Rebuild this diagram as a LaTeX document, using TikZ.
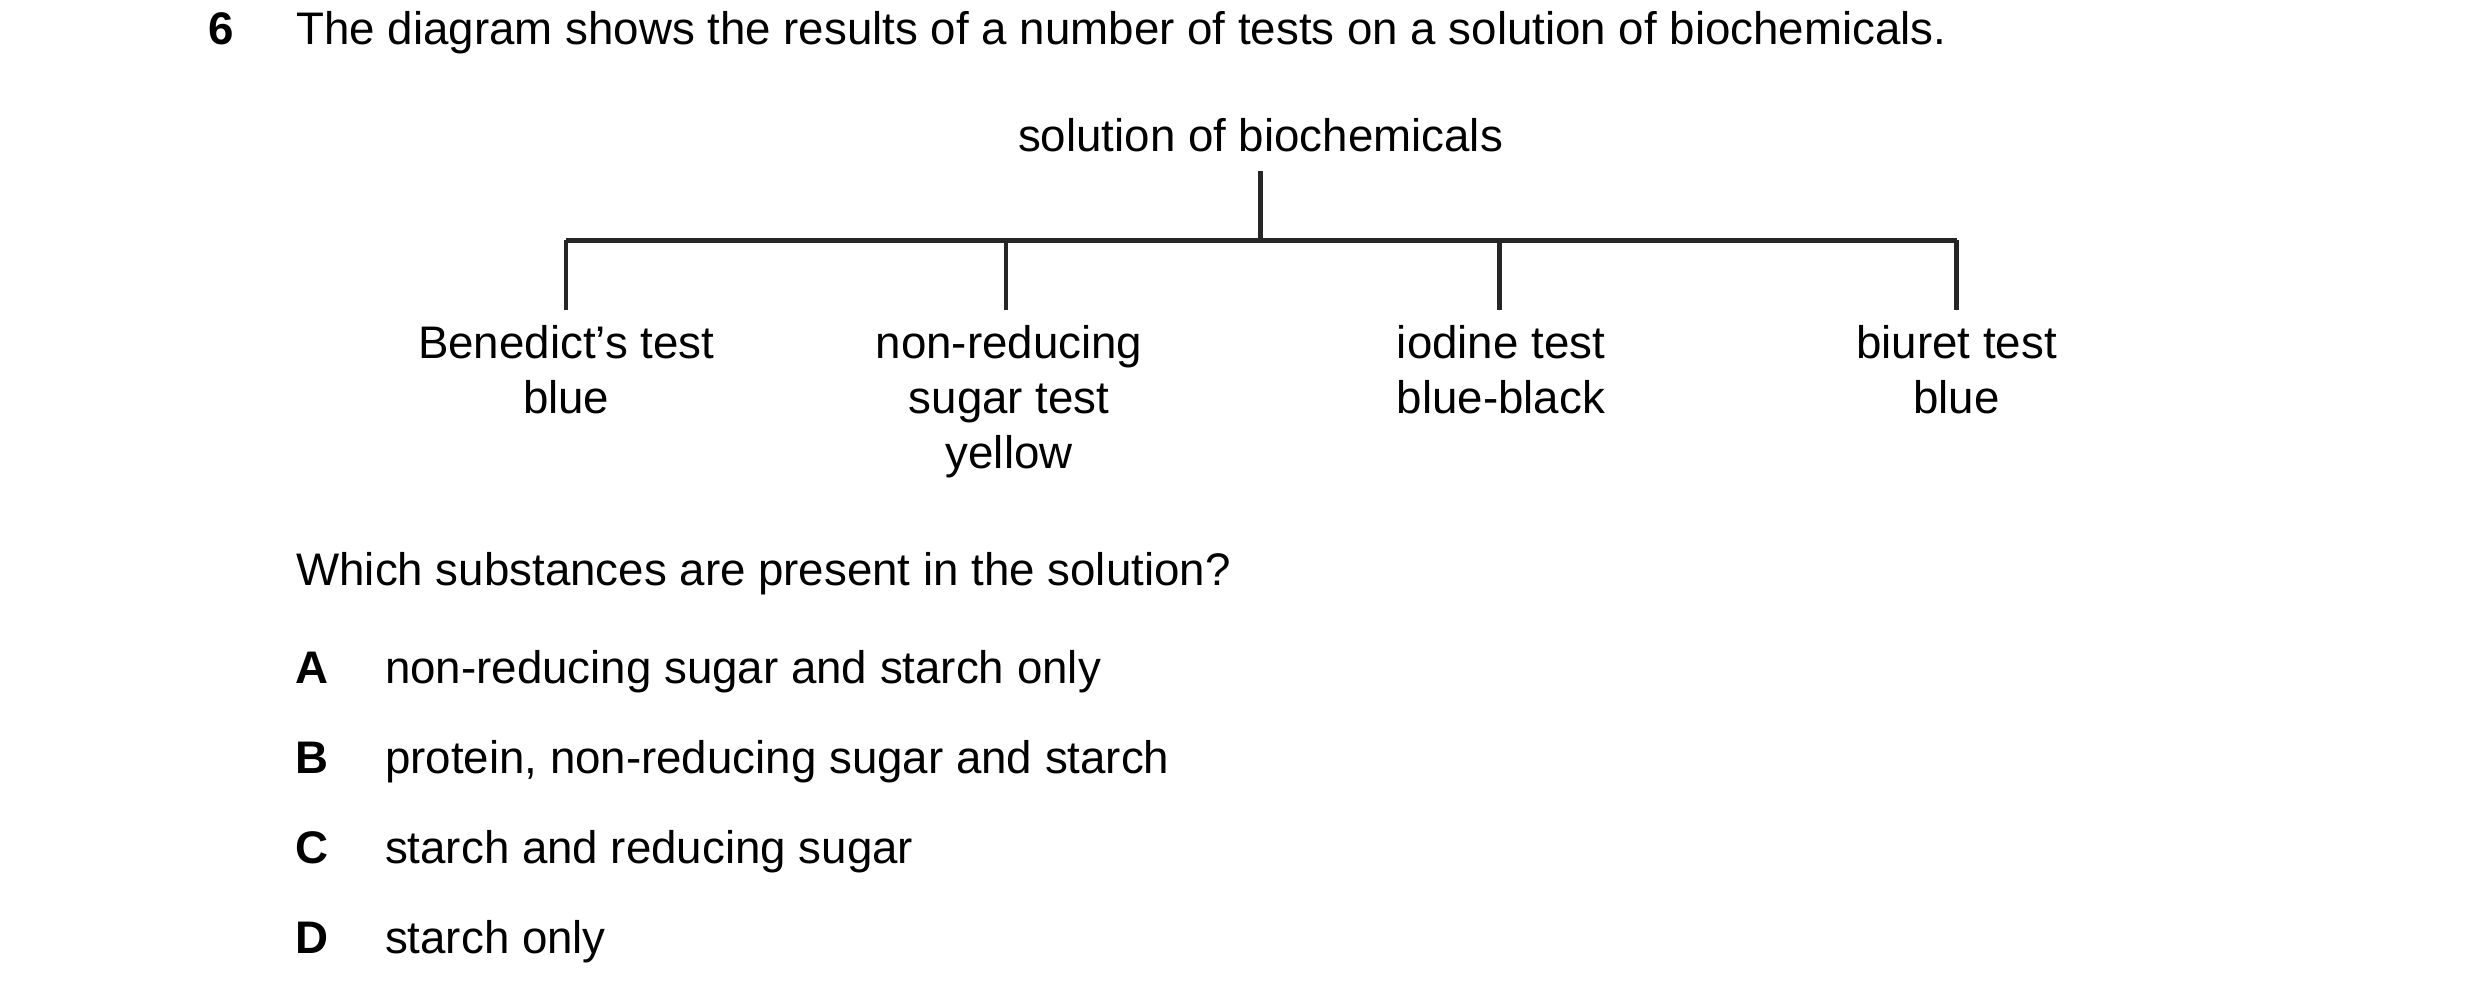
\documentclass[tikz,border=0pt]{standalone}
\usepackage{fontspec}
\setmainfont{Liberation Sans}
\usetikzlibrary{positioning}
\tikzset{
  txt/.style={inner sep=0pt, font=\fontsize{13}{15.7}\selectfont},
  test/.style={txt, align=center, anchor=north},
  branch/.style={line width=1.2pt, black!85}
}
\begin{document}
\begin{tikzpicture}[x=0.015816cm, y=-0.015816cm]
            \useasboundingbox (0,0) rectangle (1568,633);
            % question
            \node[txt, anchor=base, font=\fontsize{13}{15.7}\selectfont\bfseries] (num) at (140,28) {6};
            \node[txt, anchor=base west] (stem) at (187,28) {The diagram shows the results of a number of tests on a solution of biochemicals.};
            
            % tree
            \node[txt, anchor=base] (sol) at (797,96) {solution of biochemicals};
            \coordinate (top) at (797,108);
            \coordinate (mid) at (797,152);
            \coordinate (jA) at (358,152);
            \coordinate (jB) at (636,152);
            \coordinate (jC) at (948,152);
            \coordinate (jD) at (1237,152);
            \coordinate (eA) at (358,196);
            \coordinate (eB) at (636,196);
            \coordinate (eC) at (948,196);
            \coordinate (eD) at (1237,196);
            \draw[branch] (top) -- (mid);
            \draw[branch] (jA) -- (jD);
            \draw[branch] (jA) -- (eA);
            \draw[branch] (jB) -- (eB);
            \draw[branch] (jC) -- (eC);
            \draw[branch] (jD) -- (eD);
            
            \node[test] (bene) at (358,205) {Benedict’s test\\blue};
            \node[test] (nonred) at (638,205) {non-reducing\\sugar test\\yellow};
            \node[test] (iod) at (949,205) {iodine test\\blue-black};
            \node[test] (biu) at (1237,205) {biuret test\\blue};
            
            % options
            \node[txt, anchor=base west] (ask) at (187,370) {Which substances are present in the solution?};
            \foreach \l/\t/\y in {A/non-reducing sugar and starch only/432,
                                  B/{protein, non-reducing sugar and starch}/489,
                                  C/starch and reducing sugar/546,
                                  D/starch only/603} {
              \node[txt, anchor=base, font=\fontsize{13}{15.7}\selectfont\bfseries] (key\l) at (197,\y) {\l};
              \node[txt, anchor=base west] (opt\l) at (243,\y) {\t};
            }
\end{tikzpicture}
\end{document}
